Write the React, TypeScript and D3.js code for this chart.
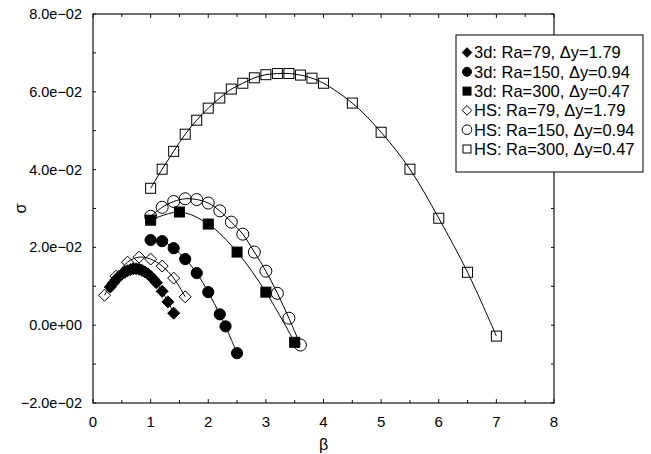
import React from "react";
import * as d3 from "d3";

// HS: Ra=300, dy=0.47 (open squares)
const hs300Beta = [1.0, 1.2, 1.4, 1.6, 1.8, 2.0, 2.2, 2.4, 2.6, 2.8, 3.0, 3.2, 3.4, 3.6, 3.8, 4.0, 4.5, 5.0, 5.5, 6.0, 6.5, 7.0];
const hs300Sigma = [0.0352, 0.0401, 0.0447, 0.0491, 0.0527, 0.0558, 0.0584, 0.0607, 0.0622, 0.0636, 0.0644, 0.0647, 0.0647, 0.0643, 0.0635, 0.0622, 0.0571, 0.0496, 0.0401, 0.0275, 0.0136, -0.0028];

// HS: Ra=150, dy=0.94 (open circles)
const hs150Beta = [1.0, 1.2, 1.4, 1.6, 1.8, 2.0, 2.2, 2.4, 2.6, 2.8, 3.0, 3.2, 3.4, 3.6];
const hs150Sigma = [0.0280, 0.0303, 0.0318, 0.0325, 0.0323, 0.0314, 0.0294, 0.0265, 0.0234, 0.0188, 0.0139, 0.0082, 0.0018, -0.0051];

// HS: Ra=79, dy=1.79 (open diamonds)
const hs79Beta = [0.2, 0.4, 0.6, 0.8, 1.0, 1.2, 1.4, 1.6];
const hs79Sigma = [0.0077, 0.0126, 0.0162, 0.0175, 0.0170, 0.0152, 0.0121, 0.0073];

// 3d: Ra=300, dy=0.47 (filled squares)
const d300Beta = [1.0, 1.5, 2.0, 2.5, 3.0, 3.5];
const d300Sigma = [0.0270, 0.0291, 0.0260, 0.0188, 0.0085, -0.0044];

// 3d: Ra=150, dy=0.94 (filled circles)
const d150Beta = [1.0, 1.2, 1.4, 1.6, 1.8, 2.0, 2.2, 2.3, 2.5];
const d150Sigma = [0.0219, 0.0216, 0.0198, 0.0170, 0.0134, 0.0085, 0.0028, -0.0003, -0.0072];

// 3d: Ra=79, dy=1.79 (filled diamonds)
const d79Beta = [0.3, 0.35, 0.4, 0.45, 0.5, 0.55, 0.6, 0.65, 0.7, 0.75, 0.8, 0.85, 0.9, 0.95, 1.0, 1.05, 1.1, 1.2, 1.3, 1.4];
const d79Sigma = [0.0098, 0.0108, 0.0117, 0.0125, 0.0131, 0.0136, 0.0140, 0.0143, 0.0145, 0.0145, 0.0144, 0.0141, 0.0137, 0.0132, 0.0126, 0.0118, 0.0109, 0.0087, 0.0060, 0.0031];

const legendLabels = [
  "3d: Ra=79, \u0394y=1.79",
  "3d: Ra=150, \u0394y=0.94",
  "3d: Ra=300, \u0394y=0.47",
  "HS: Ra=79, \u0394y=1.79",
  "HS: Ra=150, \u0394y=0.94",
  "HS: Ra=300, \u0394y=0.47",
];

const xTicks = [0, 1, 2, 3, 4, 5, 6, 7, 8];
const yTicks = [-0.02, 0, 0.02, 0.04, 0.06, 0.08];
const yTickLabels = ["\u22122.0e\u221202", "0.0e+00", "2.0e\u221202", "4.0e\u221202", "6.0e\u221202", "8.0e\u221202"];

const series = [
  { beta: d79Beta, sigma: d79Sigma, shape: "diamond", filled: true },
  { beta: d150Beta, sigma: d150Sigma, shape: "circle", filled: true },
  { beta: d300Beta, sigma: d300Sigma, shape: "square", filled: true },
  { beta: hs79Beta, sigma: hs79Sigma, shape: "diamond", filled: false },
  { beta: hs150Beta, sigma: hs150Sigma, shape: "circle", filled: false },
  { beta: hs300Beta, sigma: hs300Sigma, shape: "square", filled: false },
];

const W = 651;
const H = 454;
const margin = { left: 93, right: 97, top: 14, bottom: 51 };
const font = "'Liberation Sans', Arial, sans-serif";

const Marker = ({ shape, filled, x, y, s = 1 }: any) => {
  const fill = filled ? "#000" : "none";
  const sw = 1;
  if (shape === "circle") {
    return <circle cx={x} cy={y} r={(filled ? 5.6 : 6) * s} fill={fill} stroke="#000" strokeWidth={sw} />;
  }
  if (shape === "square") {
    const h = 5 * s;
    return <rect x={x - h} y={y - h} width={2 * h} height={2 * h} fill={fill} stroke="#000" strokeWidth={sw} />;
  }
  const d = 6 * s;
  return (
    <path
      d={`M${x},${y - d}L${x + d},${y}L${x},${y + d}L${x - d},${y}Z`}
      fill={fill}
      stroke="#000"
      strokeWidth={sw}
    />
  );
};

export default function App() {
  const x = d3.scaleLinear().domain([0, 8]).range([margin.left, W - margin.right]);
  const y = d3.scaleLinear().domain([-0.02, 0.08]).range([H - margin.bottom, margin.top]);
  const x0 = x(0), x1 = x(8), y0 = y(-0.02), y1 = y(0.08);

  const line = d3
    .line<[number, number]>()
    .x((d) => x(d[0]))
    .y((d) => y(d[1]))
    .curve(d3.curveCatmullRom.alpha(0.5));

  const xMinor = d3.range(0, 8.01, 0.5);
  const yMinor = d3.range(-0.02, 0.0801, 0.01);

  const lx = 456, ly = 35, lw = 187, lh = 137;

  return (
    <svg
      width={W}
      height={H}
      style={{ position: "absolute", left: 0, top: 0, background: "#fff" }}
      fontFamily={font}
    >
      <rect x={0} y={0} width={W} height={H} fill="#fff" />
      {/* frame */}
      <rect x={x0} y={y1} width={x1 - x0} height={y0 - y1} fill="none" stroke="#111" strokeWidth={1.2} />
      {/* ticks */}
      {xMinor.map((t, i) => (
        <g key={"xt" + i} stroke="#111" strokeWidth={1}>
          <line x1={x(t)} x2={x(t)} y1={y0} y2={y0 - (Number.isInteger(t) ? 4 : 3)} />
          <line x1={x(t)} x2={x(t)} y1={y1} y2={y1 + (Number.isInteger(t) ? 4 : 3)} />
        </g>
      ))}
      {yMinor.map((t, i) => (
        <g key={"yt" + i} stroke="#111" strokeWidth={1}>
          <line x1={x0} x2={x0 + 3} y1={y(t)} y2={y(t)} />
          <line x1={x1} x2={x1 - 3} y1={y(t)} y2={y(t)} />
        </g>
      ))}
      {/* tick labels */}
      {xTicks.map((t) => (
        <text key={"xl" + t} x={x(t)} y={y0 + 24} textAnchor="middle" fontSize={15} fill="#000">
          {t}
        </text>
      ))}
      {yTicks.map((t, i) => (
        <text key={"yl" + i} x={x0 - 11} y={y(t)} dy="0.35em" textAnchor="end" fontSize={14.5} fill="#000">
          {yTickLabels[i]}
        </text>
      ))}
      {/* axis titles */}
      <text x={(x0 + x1) / 2} y={y0 + 47} textAnchor="middle" fontSize={16} fill="#000">
        β
      </text>
      <text
        transform={`translate(26,${y(0.03)}) rotate(-90)`}
        textAnchor="middle"
        fontSize={16}
        fill="#000"
      >
        σ
      </text>
      {/* series lines */}
      {series.map((s, i) => (
        <path
          key={"ln" + i}
          d={line(s.beta.map((b, j) => [b, s.sigma[j]] as [number, number])) || ""}
          fill="none"
          stroke="#000"
          strokeWidth={1}
        />
      ))}
      {/* markers */}
      {series.map((s, i) => (
        <g key={"mk" + i}>
          {s.beta.map((b, j) => (
            <Marker key={j} shape={s.shape} filled={s.filled} x={x(b)} y={y(s.sigma[j])} />
          ))}
        </g>
      ))}
      {/* legend */}
      <rect x={lx} y={ly} width={lw} height={lh} fill="#fff" stroke="#000" strokeWidth={1} />
      {legendLabels.map((lab, i) => (
        <g key={"lg" + i}>
          <Marker shape={series[i].shape} filled={series[i].filled} x={lx + 11} y={ly + 17.5 + i * 19.3} s={0.8} />
          <text x={lx + 18} y={ly + 17.5 + i * 19.3} dy="0.36em" fontSize={16.5} fill="#000">
            {lab}
          </text>
        </g>
      ))}
    </svg>
  );
}
